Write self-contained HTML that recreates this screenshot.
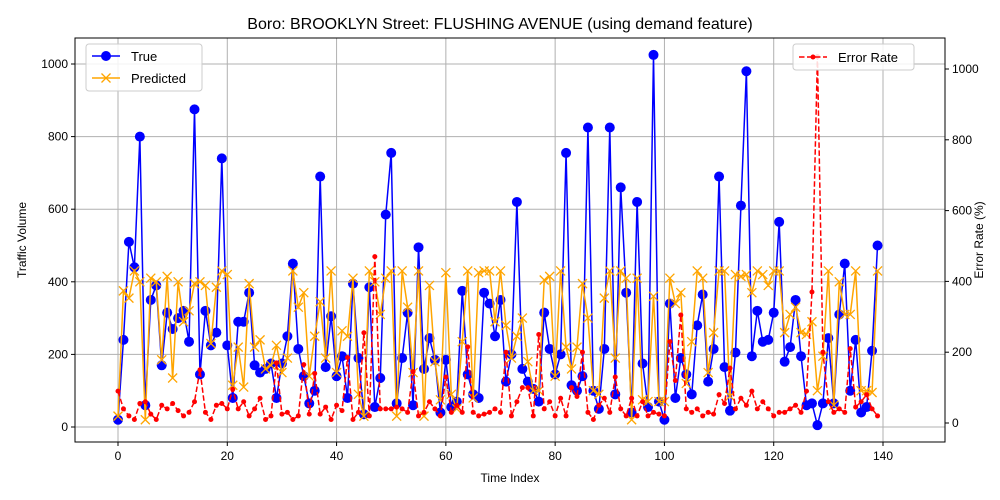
<!DOCTYPE html>
<html><head><meta charset="utf-8"><style>
body{margin:0;background:#fff}
svg{display:block;font-family:"Liberation Sans","DejaVu Sans",sans-serif}
</style></head><body>
<svg id="chart" width="1000" height="500" viewBox="0 0 1000 500" xmlns="http://www.w3.org/2000/svg"></svg>
<script>
const trueVals=[20,240,510,440,800,60,350,390,170,315,270,300,320,235,875,145,320,225,260,740,225,80,290,290,370,170,150,160,175,80,175,250,450,215,140,65,100,690,165,305,140,195,80,395,190,35,385,55,135,585,755,65,190,315,60,495,160,245,185,40,185,55,70,375,145,90,80,370,340,250,350,125,200,620,160,125,105,70,315,215,145,200,755,115,100,140,825,100,50,215,825,90,660,370,40,620,175,55,1025,70,20,340,80,190,145,90,280,365,125,215,690,165,45,205,610,980,195,320,235,240,315,565,180,220,350,195,60,65,5,65,245,65,310,450,100,240,40,55,210,500];
const predVals=[30,375,355,430,400,20,410,400,185,415,135,400,290,320,395,400,390,230,385,430,420,115,220,110,395,220,240,160,170,225,150,190,430,330,370,140,250,345,190,430,150,265,250,410,90,30,430,400,310,410,430,30,430,330,150,430,30,390,180,75,425,90,50,235,430,80,425,430,430,290,430,280,190,250,300,180,100,100,405,415,140,430,220,160,220,395,300,100,90,355,430,190,430,410,20,410,75,70,360,70,70,410,340,370,120,235,430,410,150,260,430,430,85,420,415,420,370,430,420,390,430,430,260,310,330,260,255,290,100,195,430,60,400,310,310,430,100,100,95,430];
const errVals=[90,40,20,10,55,60,25,10,50,40,55,35,20,30,60,150,30,10,50,55,40,95,40,60,20,40,70,10,20,170,25,30,10,20,165,25,140,25,45,10,50,35,185,10,30,255,20,470,40,40,40,45,40,30,145,20,30,60,40,20,130,30,50,30,215,30,20,25,30,40,30,200,20,60,100,100,20,250,40,60,20,70,20,100,75,200,30,10,50,70,30,130,40,20,70,20,60,20,30,25,20,230,120,305,40,30,40,20,30,25,80,55,155,40,70,50,90,40,60,40,20,30,30,40,50,30,90,370,1035,200,60,30,40,30,210,45,60,80,40,20];
const xTicks=[0,20,40,60,80,100,120,140];
const yTicks=[0,200,400,600,800,1000];
const rTicks=[0,200,400,600,800,1000];

const svg=document.getElementById('chart');
const NS='http://www.w3.org/2000/svg';
const L=75,R=945,T=38,B=442;
const X=i=>118+(883-118)*i/140;
const Y=v=>427-(427-64)*v/1000;
const YR=v=>423-(423-69)*v/1000;
function mk(tag,attrs,parent){const e=document.createElementNS(NS,tag);for(const k in attrs)e.setAttribute(k,attrs[k]);(parent||svg).appendChild(e);return e;}
function txt(s,x,y,attrs){const e=mk('text',Object.assign({x:x,y:y,'font-size':12,fill:'#000'},attrs||{}));e.textContent=s;return e;}

const grid=mk('g',{});


xTicks.forEach(t=>{mk('line',{x1:X(t),x2:X(t),y1:T,y2:B,stroke:'#b0b0b0','stroke-width':1},grid);});
yTicks.forEach(t=>{mk('line',{x1:L,x2:R,y1:Y(t),y2:Y(t),stroke:'#b0b0b0','stroke-width':1},grid);});

const xa=mk('g',{});


xTicks.forEach(t=>{mk('line',{x1:X(t),x2:X(t),y1:B,y2:B+4,stroke:'#000'},xa);txt(String(t),X(t),B+18,{'text-anchor':'middle'});});
const ya=mk('g',{});


yTicks.forEach(t=>{mk('line',{x1:L-4,x2:L,y1:Y(t),y2:Y(t),stroke:'#000'},ya);txt(String(t),L-7,Y(t)+4,{'text-anchor':'end'});});
const yr=mk('g',{});


rTicks.forEach(t=>{mk('line',{x1:R,x2:R+4,y1:YR(t),y2:YR(t),stroke:'#000'},yr);txt(String(t),R+7,YR(t)+4,{'text-anchor':'start'});});

// series
function poly(vals,yf,attrs,name){const p=mk('polyline',Object.assign({points:vals.map((v,i)=>X(i)+','+yf(v)).join(' '),fill:'none'},attrs));return p;}
poly(trueVals,Y,{stroke:'#0000ff','stroke-width':1.5},'true-line');
const tg=mk('g',{});


trueVals.forEach((v,i)=>mk('circle',{cx:X(i),cy:Y(v),r:5,fill:'#0000ff'},tg));
poly(predVals,Y,{stroke:'#ffa500','stroke-width':1.5},'predicted-line');
const pg=mk('g',{});


predVals.forEach((v,i)=>{const x=X(i),y=Y(v);mk('path',{d:`M${x-4.5},${y-4.5}L${x+4.5},${y+4.5}M${x-4.5},${y+4.5}L${x+4.5},${y-4.5}`,stroke:'#ffa500','stroke-width':1.3},pg);});
poly(errVals,YR,{stroke:'#ff0000','stroke-width':1.5,'stroke-dasharray':'5.5,2.5'},'error-rate-line');
const eg=mk('g',{});


errVals.forEach((v,i)=>mk('circle',{cx:X(i),cy:YR(v),r:2.5,fill:'#ff0000'},eg));

mk('rect',{x:L,y:T,width:R-L,height:B-T,fill:'none',stroke:'#000','stroke-width':1});

const ti=txt('Boro: BROOKLYN Street: FLUSHING AVENUE (using demand feature)',500,29,{'text-anchor':'middle','font-size':16});

const xl=txt('Time Index',510,482,{'text-anchor':'middle'});

const yl=txt('Traffic Volume',26,240,{'text-anchor':'middle',transform:'rotate(-90 26 240)'});

const rl=txt('Error Rate (%)',983,240,{'text-anchor':'middle',transform:'rotate(-90 983 240)'});


// legends
const lg=mk('g',{});


mk('rect',{x:86,y:44,width:116,height:47,rx:3,fill:'#fff','fill-opacity':0.85,stroke:'#ccc'},lg);
mk('line',{x1:92,x2:120,y1:56,y2:56,stroke:'#0000ff','stroke-width':1.5},lg);
mk('circle',{cx:106,cy:56,r:5,fill:'#0000ff'},lg);
txt('True',131,61,{'font-size':13},);
mk('line',{x1:92,x2:120,y1:78,y2:78,stroke:'#ffa500','stroke-width':1.5},lg);
mk('path',{d:'M101.5,73.5L110.5,82.5M101.5,82.5L110.5,73.5',stroke:'#ffa500','stroke-width':1.3},lg);
txt('Predicted',131,83,{'font-size':13});
const rg=mk('g',{});


mk('rect',{x:793,y:44,width:121,height:26,rx:3,fill:'#fff','fill-opacity':0.85,stroke:'#ccc'},rg);
mk('line',{x1:799,x2:827,y1:57,y2:57,stroke:'#ff0000','stroke-width':1.5,'stroke-dasharray':'5.5,2.5'},rg);
mk('circle',{cx:813,cy:57,r:2.5,fill:'#ff0000'},rg);
txt('Error Rate',838,62,{'font-size':13});
</script>
</body></html>
